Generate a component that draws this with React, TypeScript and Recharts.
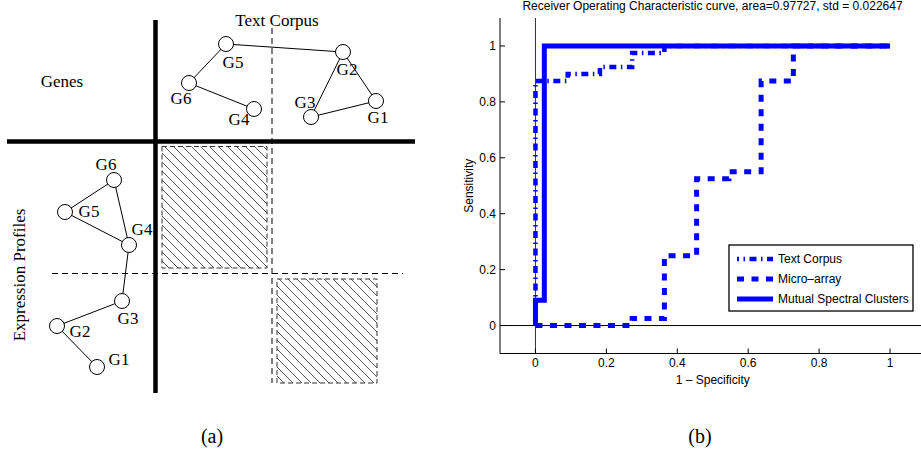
import React from "react";
import {
  ScatterChart,
  Scatter,
  LineChart,
  Line,
  XAxis,
  YAxis,
  ReferenceLine,
  ReferenceArea,
  Legend,
} from "recharts";

// ---- panel (b): ROC curves (1 - specificity vs sensitivity) ----
const textCorpusFpr = [0, 0, 0.0909, 0.0909, 0.1818, 0.1818, 0.2727, 0.2727, 0.3636, 0.3636, 1];
const textCorpusTpr = [0, 0.875, 0.875, 0.9, 0.9, 0.925, 0.925, 0.975, 0.975, 1, 1];
const microArrayFpr = [0, 0.2727, 0.2727, 0.3636, 0.3636, 0.4545, 0.4545, 0.5455, 0.5455, 0.6364, 0.6364, 0.7273, 0.7273, 1];
const microArrayTpr = [0, 0, 0.025, 0.025, 0.25, 0.25, 0.525, 0.525, 0.55, 0.55, 0.875, 0.875, 1, 1];
const mutualFpr = [0, 0, 0.025, 0.025, 1];
const mutualTpr = [0, 0.0909, 0.0909, 1, 1];
const xTicks = [0, 0.2, 0.4, 0.6, 0.8, 1];
const yTicks = [0, 0.2, 0.4, 0.6, 0.8, 1];
const seriesNames = ["Text Corpus", "Micro–array", "Mutual Spectral Clusters"];
const rocTitle = "Receiver Operating Characteristic curve, area=0.97727, std = 0.022647";

// ---- panel (a): gene graphs, diagram units ----
const geneNames = ["G1", "G2", "G3", "G4", "G5", "G6"];
const textNodeX = [376, 343, 311, 254, 226, 189];
const textNodeY = [101, 52, 117, 109, 44, 83];
const textLabelX = [378, 347, 305, 239, 233, 181];
const textLabelY = [117, 69, 102, 119, 62, 98];
const textEdges = [["G5", "G2"], ["G5", "G6"], ["G6", "G4"], ["G2", "G3"], ["G2", "G1"], ["G3", "G1"]];
const exprNodeX = [97, 57, 122, 129, 65, 114];
const exprNodeY = [367, 326, 301, 245, 212, 180];
const exprLabelX = [119, 80, 128, 142, 89, 106];
const exprLabelY = [359, 331, 318, 229, 211, 164];
const exprEdges = [["G6", "G5"], ["G6", "G4"], ["G5", "G4"], ["G4", "G3"], ["G3", "G2"], ["G2", "G1"]];

const SANS = "'Liberation Sans', Arial, Helvetica, sans-serif";
const SERIF = "'Liberation Serif', 'Times New Roman', serif";
const BLUE = "#0000ff";

const toPoints = (xs: number[], ys: number[]) => xs.map((x, i) => ({ x, y: ys[i] }));

const rocSeries = [
  { name: seriesNames[0], data: toPoints(textCorpusFpr, textCorpusTpr), width: 4.5, dash: "7 4.5 1.5 4.5" },
  { name: seriesNames[1], data: toPoints(microArrayFpr, microArrayTpr), width: 5, dash: "7 7.5" },
  { name: seriesNames[2], data: toPoints(mutualFpr, mutualTpr), width: 5, dash: undefined as string | undefined },
];

function buildGraph(nx: number[], ny: number[], lx: number[], ly: number[], edges: string[][]) {
  const nodes = geneNames.map((name, i) => ({ name, x: nx[i], y: ny[i] }));
  const labels = geneNames.map((name, i) => ({ name, x: lx[i], y: ly[i] }));
  const byName = (n: string) => nodes[geneNames.indexOf(n)];
  const lines = edges.map(([a, b]) => [byName(a), byName(b)]);
  return { nodes, labels, lines };
}

const textGraph = buildGraph(textNodeX, textNodeY, textLabelX, textLabelY, textEdges);
const exprGraph = buildGraph(exprNodeX, exprNodeY, exprLabelX, exprLabelY, exprEdges);

const diagramTexts = [
  { name: "Text Corpus", x: 277, y: 20, angle: 0 },
  { name: "Genes", x: 62, y: 81, angle: 0 },
  { name: "Expression Profiles", x: 19, y: 275, angle: -90 },
];

const nodeShape = (p: any) => (
  <circle cx={p.cx} cy={p.cy} r={7.5} fill="#fff" stroke="#000" strokeWidth={1} />
);
const noShape = () => <g />;
const textShape = (p: any) => (
  <text
    x={p.cx}
    y={p.cy}
    textAnchor="middle"
    dominantBaseline="central"
    fontFamily={SERIF}
    fontSize={17}
    fill="#000"
    transform={p.payload.angle ? `rotate(${p.payload.angle} ${p.cx} ${p.cy})` : undefined}
  >
    {p.payload.name}
  </text>
);

function DiagramPanel() {
  const graphs = [textGraph, exprGraph];
  return (
    <ScatterChart width={440} height={451} margin={{ top: 0, right: 0, bottom: 0, left: 0 }}>
      <XAxis type="number" dataKey="x" domain={[0, 440]} hide allowDataOverflow />
      <YAxis type="number" dataKey="y" domain={[0, 451]} reversed hide allowDataOverflow />

      <ReferenceArea x1={162} x2={267} y1={146.5} y2={268} fill="url(#hatch)" fillOpacity={1} stroke="#333" strokeDasharray="5 3" />
      <ReferenceArea x1={277} x2={377} y1={279} y2={383} fill="url(#hatch)" fillOpacity={1} stroke="#333" strokeDasharray="5 3" />

      <ReferenceLine segment={[{ x: 272, y: 28 }, { x: 272, y: 383 }]} stroke="#000" strokeDasharray="6 4" />
      <ReferenceLine segment={[{ x: 52, y: 273.5 }, { x: 403, y: 273.5 }]} stroke="#000" strokeDasharray="6 4" />
      <ReferenceLine segment={[{ x: 155.5, y: 20 }, { x: 155.5, y: 393 }]} stroke="#000" strokeWidth={4.5} />
      <ReferenceLine segment={[{ x: 7, y: 141.5 }, { x: 415, y: 141.5 }]} stroke="#000" strokeWidth={4.5} />

      {graphs.map((g, gi) =>
        g.lines.map((seg, i) => (
          <Scatter
            key={`e${gi}-${i}`}
            data={seg}
            line={{ stroke: "#000", strokeWidth: 1 }}
            shape={noShape}
            isAnimationActive={false}
          />
        ))
      )}
      {graphs.map((g, gi) => (
        <Scatter key={`n${gi}`} data={g.nodes} shape={nodeShape} isAnimationActive={false} />
      ))}
      {graphs.map((g, gi) => (
        <Scatter key={`l${gi}`} data={g.labels} shape={textShape} isAnimationActive={false} />
      ))}
      <Scatter data={diagramTexts} shape={textShape} isAnimationActive={false} />
    </ScatterChart>
  );
}

function RocLegend() {
  return (
    <svg width={186} height={68} style={{ display: "block" }}>
      <rect x={1} y={1} width={184} height={66} fill="#fff" stroke="#000" strokeWidth={1.3} />
      {rocSeries.map((s, i) => (
        <g key={s.name}>
          <line
            x1={9}
            x2={45}
            y1={15 + i * 20}
            y2={15 + i * 20}
            stroke={BLUE}
            strokeWidth={s.width}
            strokeDasharray={s.dash}
            strokeDashoffset={i === 0 ? 5 : 0}
          />
          <text x={50} y={15 + i * 20} dominantBaseline="central" fontSize={12} fontFamily={SANS} fill="#000">
            {s.name}
          </text>
        </g>
      ))}
    </svg>
  );
}

function RocPanel() {
  const tickStyle = { fill: "#000", fontSize: 12, fontFamily: SANS };
  return (
    <LineChart width={490} height={451} margin={{ top: 18, right: 4.5, bottom: 67.5, left: 10 }}>
      <XAxis
        type="number"
        dataKey="x"
        domain={[-0.1, 1.1]}
        ticks={xTicks}
        allowDataOverflow
        stroke="#000"
        tick={tickStyle}
        tickSize={-5}
        tickMargin={10}
        height={30}
        label={{ value: "1 – Specificity", position: "insideBottom", offset: 0, fill: "#000", fontSize: 12, fontFamily: SANS }}
      />
      <YAxis
        type="number"
        dataKey="y"
        domain={[-0.1, 1.1]}
        ticks={yTicks}
        allowDataOverflow
        stroke="#000"
        tick={tickStyle}
        tickSize={-5}
        tickMargin={9}
        width={50}
        label={{
          value: "Sensitivity",
          angle: -90,
          position: "insideLeft",
          offset: 19,
          fill: "#000",
          fontSize: 12,
          fontFamily: SANS,
          style: { textAnchor: "middle" },
        }}
      />
      <ReferenceLine x={0} stroke="#333" strokeWidth={1} />
      <ReferenceLine y={0} stroke="#000" strokeWidth={1} />
      {rocSeries.map((s) => (
        <Line
          key={s.name}
          data={s.data}
          dataKey="y"
          name={s.name}
          type="linear"
          stroke={BLUE}
          strokeWidth={s.width}
          strokeDasharray={s.dash}
          dot={false}
          activeDot={false}
          isAnimationActive={false}
        />
      ))}
      <Legend
        layout="vertical"
        align="center"
        verticalAlign="middle"
        wrapperStyle={{ left: 288, top: 244, width: 186 }}
        content={() => <RocLegend />}
      />
    </LineChart>
  );
}

export default function App() {
  return (
    <div
      style={{
        position: "absolute",
        left: 0,
        top: 0,
        width: 921,
        height: 451,
        overflow: "hidden",
        background: "#fff",
      }}
    >
      <svg width={0} height={0} style={{ position: "absolute" }}>
        <defs>
          <pattern id="hatch" patternUnits="userSpaceOnUse" width={9} height={9}>
            <path d="M0,0 L9,9 M-1,8 L1,10 M8,-1 L10,1" stroke="#555" strokeWidth={1} />
          </pattern>
        </defs>
      </svg>

      <div style={{ position: "absolute", left: 0, top: 0 }}>
        <DiagramPanel />
      </div>
      <div style={{ position: "absolute", left: 440, top: 0 }}>
        <RocPanel />
      </div>

      <div
        style={{
          position: "absolute",
          left: 440,
          top: 0,
          width: 545,
          textAlign: "center",
          fontFamily: SANS,
          fontSize: 12,
          lineHeight: "12px",
          whiteSpace: "nowrap",
        }}
      >
        {rocTitle}
      </div>
      <div style={{ position: "absolute", left: 162, top: 426, width: 100, textAlign: "center", fontFamily: SERIF, fontSize: 20, lineHeight: "20px" }}>
        (a)
      </div>
      <div style={{ position: "absolute", left: 650, top: 426, width: 100, textAlign: "center", fontFamily: SERIF, fontSize: 20, lineHeight: "20px" }}>
        (b)
      </div>
    </div>
  );
}
